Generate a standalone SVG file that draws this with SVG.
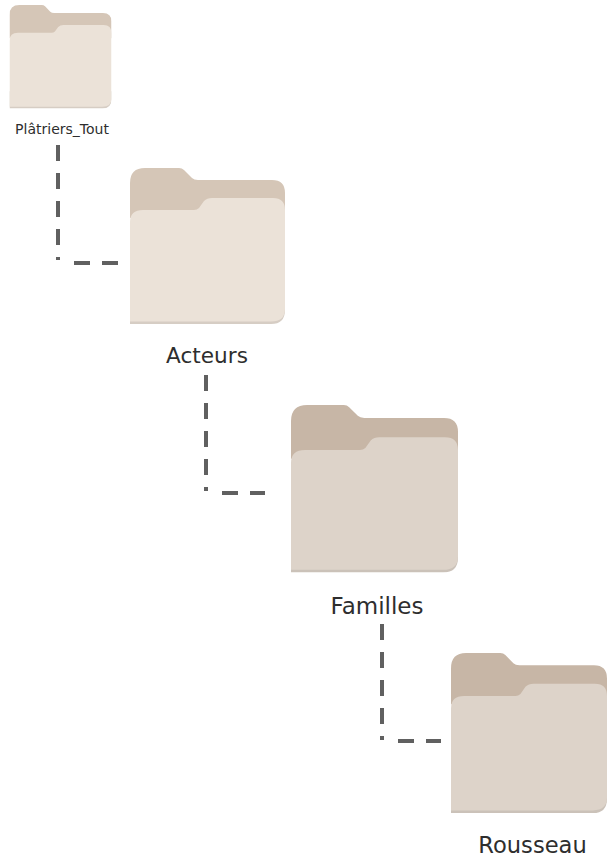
<svg xmlns="http://www.w3.org/2000/svg" xmlns:xlink="http://www.w3.org/1999/xlink" width="607" height="858" viewBox="0 0 607 858">
  <style>
    text { font-family: "DejaVu Sans", sans-serif; fill: #2e2e2e; text-anchor: middle; }
    .conn { fill: none; stroke: #606060; stroke-width: 4; stroke-dasharray: 16 12; }
    .light { --back: #d5c6b7; --front: #ebe2d8; --edge: #d6cdc4; }
    .dark { --back: #c7b6a6; --front: #ddd3c9; --edge: #cbc2b9; }
    .back { fill: var(--back); } .front { fill: var(--front); } .edge { fill: var(--edge); }
  </style>
  <defs>
    <symbol id="folder" viewBox="0 0 155 156" preserveAspectRatio="none">
      <path class="back" d="M0 56V15Q0 0 15 0H49Q52 0 54 2L62 10Q64 12 68 12H142Q155 12 155 25V50H0Z"/>
      <path class="edge" d="M0 130H155V142Q155 156 141 156H0Z"/>
      <path class="front" d="M0 54Q0 42 13 42H64Q67 42 69 40L74 33Q77 30 82 30H143Q155 30 155 42V141Q155 153.500 141 153.500H0Z"/>
    </symbol>
  </defs>
  <rect width="607" height="858" fill="#ffffff"/>
  <g id="connectors">
    <path class="conn" d="M58 145V260"/>
    <path class="conn" d="M74 263H118"/>
    <path class="conn" d="M206 375V491"/>
    <path class="conn" d="M222 493H265"/>
    <path class="conn" d="M382 624V740"/>
    <path class="conn" d="M398 741H441"/>
  </g>
  <g id="node-platriers" class="light">
    <use xlink:href="#folder" href="#folder" x="9.500" y="5" width="102" height="103.500"/>
    <text x="62" y="134" font-size="14">Plâtriers_Tout</text>
  </g>
  <g id="node-acteurs" class="light">
    <use xlink:href="#folder" href="#folder" x="130" y="168" width="155" height="156"/>
    <text x="207" y="363" font-size="21.600">Acteurs</text>
  </g>
  <g id="node-familles" class="dark">
    <use xlink:href="#folder" href="#folder" x="291" y="405" width="167" height="167.500"/>
    <text x="377" y="614" font-size="23">Familles</text>
  </g>
  <g id="node-rousseau" class="dark">
    <use xlink:href="#folder" href="#folder" x="451" y="653" width="156" height="160"/>
    <text x="532.500" y="853" font-size="22.600">Rousseau</text>
  </g>
</svg>
